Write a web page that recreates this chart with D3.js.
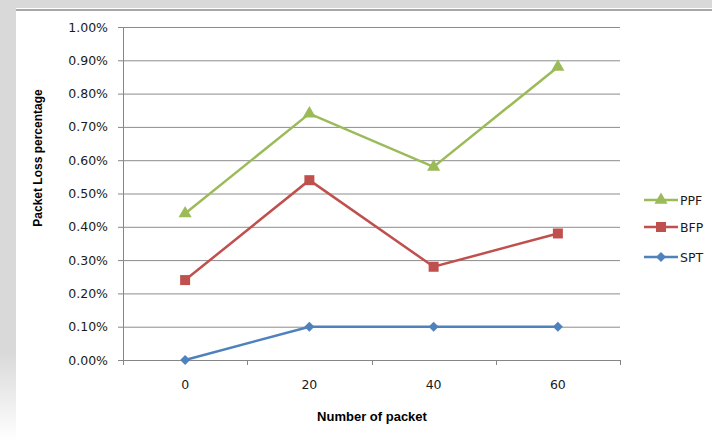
<!DOCTYPE html>
<html>
<head>
<meta charset="utf-8">
<script src="https://cdn.jsdelivr.net/npm/d3@7"></script>
<style>
body{margin:0;background:#fff;}
svg{display:block;}
</style>
</head>
<body>
<svg id="box" width="712" height="441"></svg>
<script>
let packets=["0","20","40","60"];
let ppf=[0.44,0.74,0.58,0.88];
let bfp=[0.24,0.54,0.28,0.38];
let spt=[0.00,0.10,0.10,0.10];
let yTicks=[0,0.1,0.2,0.3,0.4,0.5,0.6,0.7,0.8,0.9,1.0];
let seriesNames=["PPF","BFP","SPT"];

let colDict={"PPF":"#9bbb59","BFP":"#c0504d","SPT":"#4f81bd"};
let valDict={"PPF":ppf,"BFP":bfp,"SPT":spt};
let shapeDict={"PPF":d3.symbolTriangle,"BFP":d3.symbolSquare,"SPT":d3.symbolSquare};
let sizeDict={"PPF":75,"BFP":100,"SPT":50};
let rotDict={"PPF":0,"BFP":0,"SPT":45};

let box=d3.select("#box");
let w=712,h=441;
let pLeft=123,pRight=620,pTop=27,pBottom=360;

// page background bits
let grad=box.append("defs").append("linearGradient").attr("id","lg").attr("x1",0).attr("y1",0).attr("x2",0).attr("y2",1);
grad.append("stop").attr("offset","0.8").attr("stop-color","#d9d9d9");
grad.append("stop").attr("offset","1").attr("stop-color","#ffffff");
box.append("rect").attr("x",0).attr("y",0).attr("width",w).attr("height",h).attr("fill","#fff");
box.append("rect").attr("x",0).attr("y",0).attr("width",16).attr("height",h).attr("fill","url(#lg)");
box.append("rect").attr("x",0).attr("y",0).attr("width",w).attr("height",8).attr("fill","#d9d9d9");
box.append("rect").attr("x",16).attr("y",9).attr("width",w-16).attr("height",2).attr("fill","#a8a8a8");

let xScale=d3.scaleBand().domain(packets).range([pLeft,pRight]).padding(0);
let yScale=d3.scaleLinear().domain([0,1]).range([pBottom,pTop]);
let cx=(d)=>xScale(d)+xScale.bandwidth()/2;

// y grid + axis
let yAxis=d3.axisLeft(yScale).tickValues(yTicks).tickSize(5).tickPadding(10).tickFormat((d)=>d.toFixed(2)+"%");
let gy=box.append("g").attr("transform","translate("+pLeft+",0)").call(yAxis);
gy.select(".domain").attr("stroke","#868686");
gy.selectAll(".tick line").attr("stroke","#868686");
gy.selectAll(".tick text").style("font","12.5px 'DejaVu Sans'").attr("fill","#1a1a1a");
box.append("g").selectAll("line").data(yTicks.slice(1)).enter().append("line")
  .attr("x1",pLeft).attr("x2",pRight).attr("y1",(d)=>yScale(d)+0.5).attr("y2",(d)=>yScale(d)+0.5)
  .attr("stroke","#8c8c8c").attr("stroke-width",1);

// x axis
box.append("line").attr("x1",pLeft).attr("x2",pRight).attr("y1",pBottom+0.5).attr("y2",pBottom+0.5).attr("stroke","#868686");
let bounds=packets.map((d)=>xScale(d)).concat([pRight]);
box.append("g").selectAll("line").data(bounds).enter().append("line")
  .attr("x1",(d)=>Math.round(d)+0.5).attr("x2",(d)=>Math.round(d)+0.5).attr("y1",pBottom).attr("y2",pBottom+5)
  .attr("stroke","#868686");
box.append("g").selectAll("text").data(packets).enter().append("text")
  .attr("x",cx).attr("y",389).attr("text-anchor","middle").attr("fill","#1a1a1a")
  .style("font","12.5px 'DejaVu Sans'").text((d)=>d);

// titles
box.append("text").attr("x",372).attr("y",421).attr("text-anchor","middle")
  .style("font","bold 13px 'Liberation Sans'").text("Number of packet");
box.append("text").attr("transform","translate(42,158) rotate(-90)").attr("text-anchor","middle")
  .style("font","bold 12px 'Liberation Sans'").text("Packet Loss percentage");

// series
let line=d3.line().x((d,i)=>cx(packets[i])).y((d)=>yScale(d));
seriesNames.slice().reverse().forEach((s)=>{
  box.append("path").datum(valDict[s]).attr("d",line).attr("fill","none")
    .attr("stroke",colDict[s]).attr("stroke-width",2.5);
  box.append("g").selectAll("path").data(valDict[s]).enter().append("path")
    .attr("d",d3.symbol().type(shapeDict[s]).size(sizeDict[s]))
    .attr("transform",(d,i)=>"translate("+cx(packets[i])+","+yScale(d)+") rotate("+rotDict[s]+")")
    .attr("fill",colDict[s]);
});

// legend
let legY={"PPF":200,"BFP":227,"SPT":257};
seriesNames.forEach((s)=>{
  let g=box.append("g").attr("transform","translate(644,"+legY[s]+")");
  g.append("line").attr("x1",0).attr("x2",34).attr("y1",0).attr("y2",0).attr("stroke",colDict[s]).attr("stroke-width",2.5);
  g.append("path").attr("d",d3.symbol().type(shapeDict[s]).size(sizeDict[s])).attr("transform","translate(17,0) rotate("+rotDict[s]+")").attr("fill",colDict[s]);
  g.append("text").attr("x",36).attr("y",4.5).attr("fill","#1a1a1a").style("font","12.5px 'DejaVu Sans'").text(s);
});
</script>
</body>
</html>
